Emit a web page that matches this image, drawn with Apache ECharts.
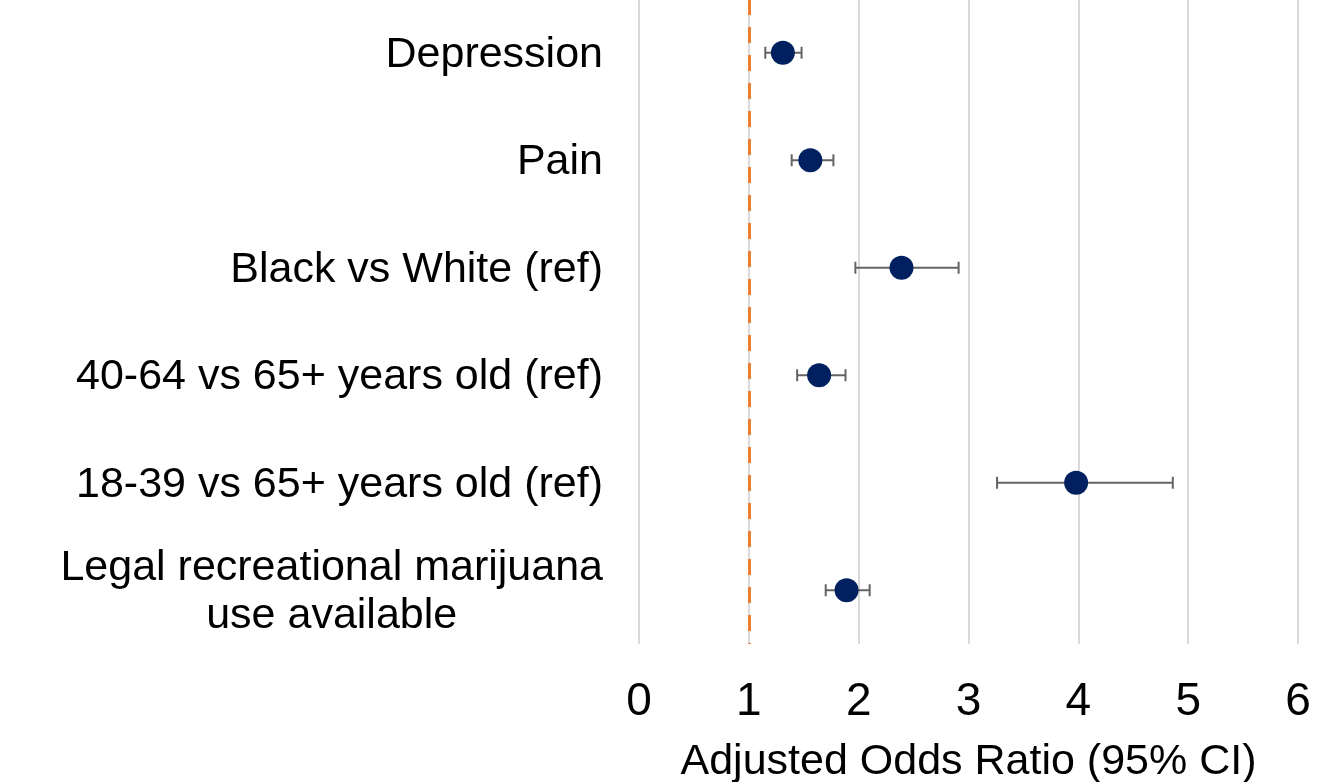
<!DOCTYPE html>
<html>
<head>
<meta charset="utf-8">
<title>Adjusted Odds Ratio</title>
<script src="https://cdn.jsdelivr.net/npm/echarts@6/dist/echarts.min.js"></script>
<style>
  html, body { margin: 0; padding: 0; background: #fff; }
  #chart { width: 1317px; height: 782px; }
</style>
</head>
<body>
<div id="chart"></div>
<script>
// forest plot data
const categories = [
  'Depression',
  'Pain',
  'Black vs White (ref)',
  '40-64 vs 65+ years old (ref)',
  '18-39 vs 65+ years old (ref)',
  'Legal recreational marijuana\nuse available'
];
const oddsRatio = [1.31, 1.56, 2.39, 1.64, 3.98, 1.89];
const ciLow = [1.15, 1.39, 1.97, 1.44, 3.26, 1.70];
const ciHigh = [1.48, 1.77, 2.91, 1.88, 4.86, 2.10];
const refValue = 1;

const font = '"Liberation Sans", Arial, sans-serif';

const myChart = echarts.init(document.getElementById('chart'));

myChart.setOption({
  animation: false,
  grid: {
    left: 639,
    right: 19,
    top: -1,
    bottom: 138,
    outerBoundsMode: 'none',
  },
  xAxis: {
    type: 'value',
    min: 0,
    max: 6,
    interval: 1,
    name: 'Adjusted Odds Ratio (95% CI)',
    nameLocation: 'middle',
    nameGap: 97,
    nameTextStyle: { fontSize: 43, color: '#000', fontFamily: font },
    axisLine: { show: false },
    axisTick: { show: false },
    axisLabel: { fontSize: 46, color: '#000', fontFamily: font, margin: 35 },
    splitLine: { lineStyle: { color: '#d9d9d9', width: 2 } },
  },
  yAxis: {
    type: 'category',
    inverse: true,
    data: categories,
    axisLine: { show: false },
    axisTick: { show: false },
    splitLine: { show: false },
    axisLabel: {
      margin: 36,
      formatter: (v) => '{c|' + v.split('\n').join('}\n{c|') + '}',
      rich: {
        c: { fontSize: 43, lineHeight: 48, color: '#000', fontFamily: font, align: 'center', padding: [4, 0, 0, 0] },
      },
    },
  },
  series: [
    {
      // confidence intervals
      type: 'custom',
      data: categories.map((c, i) => [ciLow[i], ciHigh[i], i]),
      encode: { x: [0, 1], y: 2 },
      z: 2,
      renderItem: (params, api) => {
        const a = api.coord([api.value(0), api.value(2)]);
        const b = api.coord([api.value(1), api.value(2)]);
        const cap = 6;
        const style = { stroke: '#646464', lineWidth: 2 };
        return {
          type: 'group',
          children: [
            { type: 'line', shape: { x1: a[0], y1: a[1], x2: b[0], y2: b[1] }, style },
            { type: 'line', shape: { x1: a[0], y1: a[1] - cap, x2: a[0], y2: a[1] + cap }, style },
            { type: 'line', shape: { x1: b[0], y1: b[1] - cap, x2: b[0], y2: b[1] + cap }, style },
          ],
        };
      },
    },
    {
      type: 'scatter',
      data: categories.map((c, i) => [oddsRatio[i], i]),
      symbolSize: 24,
      itemStyle: { color: '#002060', opacity: 1 },
      z: 3,
      markLine: {
        silent: true,
        symbol: 'none',
        label: { show: false },
        lineStyle: { color: '#ed7d31', width: 3, type: [16, 12] },
        data: [{ xAxis: refValue }],
      },
    },
  ],
});
</script>
</body>
</html>
